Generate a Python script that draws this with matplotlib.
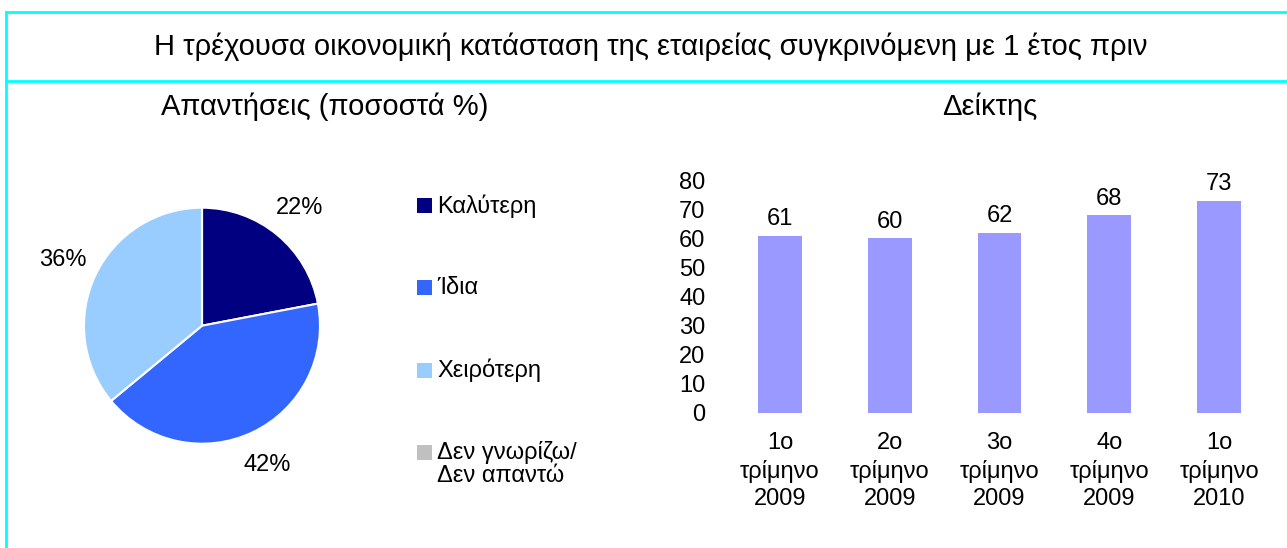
import matplotlib
matplotlib.use("Agg")
import matplotlib.pyplot as plt
from matplotlib.lines import Line2D
from matplotlib.patches import Rectangle

plt.rcParams['font.family'] = ['Liberation Sans', 'DejaVu Sans']

W, H = 1287, 548

title = "Η τρέχουσα οικονομική κατάσταση της εταιρείας συγκρινόμενη με 1 έτος πριν"
pie_title = "Απαντήσεις (ποσοστά %)"
bar_title = "Δείκτης"

pie_labels = ["Καλύτερη", "Ίδια", "Χειρότερη", "Δεν γνωρίζω/\nΔεν απαντώ"]
pie_values = [22, 42, 36, 0]
pie_colors = ["#000080", "#3366FF", "#99CCFF", "#C0C0C0"]

bar_categories = ["1ο\nτρίμηνο\n2009", "2ο\nτρίμηνο\n2009", "3ο\nτρίμηνο\n2009",
                  "4ο\nτρίμηνο\n2009", "1ο\nτρίμηνο\n2010"]
bar_values = [61, 60, 62, 68, 73]
bar_color = "#9999FF"
y_ticks = [0, 10, 20, 30, 40, 50, 60, 70, 80]

fig = plt.figure(figsize=(W / 100, H / 100), dpi=100)

def fx(px):
    return px / W

def fy(py):
    return 1 - py / H

# frame lines
cyan = "#00FFFF"
fig.add_artist(Line2D([fx(6), 1], [fy(12), fy(12)], color=cyan, lw=2))
fig.add_artist(Line2D([fx(6), 1], [fy(80.5), fy(80.5)], color=cyan, lw=2))
fig.add_artist(Line2D([fx(6), fx(6)], [fy(12), 0], color=cyan, lw=2))

fig.text(fx(651), fy(47), title, ha='center', va='center', fontsize=21)
fig.text(fx(325), fy(107), pie_title, ha='center', va='center', fontsize=21)
fig.text(fx(990), fy(107), bar_title, ha='center', va='center', fontsize=21)

# pie
cx, cy, r = 202, 325.7, 118
axp = fig.add_axes([fx(cx - r), fy(cy + r), 2 * r / W, 2 * r / H])
wedges, texts, autotexts = axp.pie(
    pie_values, colors=pie_colors, startangle=90, counterclock=False,
    autopct=lambda p: f"{p:.0f}%" if p > 0 else "", pctdistance=1.3,
    wedgeprops=dict(edgecolor='white', linewidth=1.5),
    textprops=dict(fontsize=17, color='black'))
axp.set_xlim(-1, 1)
axp.set_ylim(-1, 1)
axp.set_aspect('equal')

# legend (manual, handle aligned with first line of each label)
leg_x, leg_y0, leg_step, sq = 417, 205, 82.5, 15
for i, (lab, col) in enumerate(zip(pie_labels, pie_colors)):
    yc = leg_y0 + i * leg_step
    fig.add_artist(Rectangle((fx(leg_x), fy(yc + sq / 2)), sq / W, sq / H,
                             facecolor=col, edgecolor='none',
                             transform=fig.transFigure))
    fig.text(fx(leg_x + sq + 5), fy(yc - 11), lab, ha='left', va='top',
             fontsize=17, linespacing=1.05)

# bars
x0, x1 = 725, 1274
ytop, ybot = 180.5, 412.5
axb = fig.add_axes([fx(x0), fy(ybot), (x1 - x0) / W, (ybot - ytop) / H])
xs = list(range(len(bar_values)))
bars = axb.bar(xs, bar_values, width=0.4, color=bar_color)
axb.set_xlim(-0.5, len(bar_values) - 0.5)
axb.set_ylim(0, 80)
axb.set_yticks(y_ticks)
axb.set_xticks(xs)
axb.set_xticklabels(bar_categories, fontsize=17, linespacing=1.32)
axb.tick_params(axis='both', length=0, labelsize=17)
axb.tick_params(axis='y', pad=14)
axb.tick_params(axis='x', pad=14)
for s in axb.spines.values():
    s.set_visible(False)
for b, v in zip(bars, bar_values):
    axb.annotate(f"{v}", (b.get_x() + b.get_width() / 2, v), xytext=(0, 4),
                 textcoords='offset points', ha='center', va='bottom', fontsize=17)

fig.savefig("out.png", dpi=100)
